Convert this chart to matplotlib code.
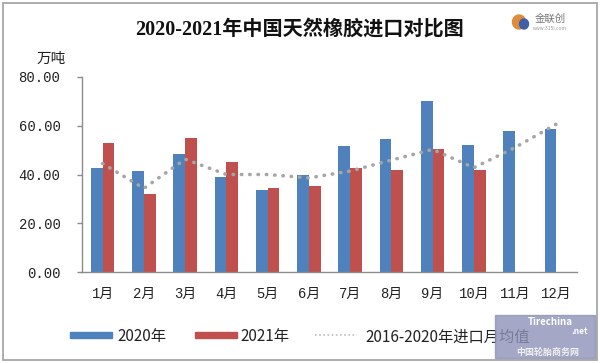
import matplotlib
matplotlib.use("Agg")
import matplotlib.pyplot as plt
from matplotlib.patches import Rectangle, Ellipse
from matplotlib.lines import Line2D
import numpy as np

plt.rcParams['font.family'] = ['Noto Sans CJK SC', 'DejaVu Sans']

months = ['1月', '2月', '3月', '4月', '5月', '6月', '7月', '8月', '9月', '10月', '11月', '12月']
imports_2020 = [42.5, 41.4, 48.5, 38.9, 33.7, 39.8, 51.5, 54.6, 70.0, 52.0, 57.7, 58.8]
imports_2021 = [53.0, 31.8, 55.0, 45.0, 34.4, 35.2, 42.5, 41.9, 50.5, 41.8]
avg_2016_2020 = [44.5, 34.3, 46.3, 40.0, 40.0, 38.6, 41.4, 45.9, 50.3, 42.8, 51.1, 60.7]
yticks = [0, 20, 40, 60, 80]
ytick_labels = ['0.00', '20.00', '40.00', '60.00', '80.00']
legend_labels = ['2020年', '2021年', '2016-2020年进口月均值']

blue = '#4F81BD'
red = '#C0504D'
gray_line = '#A6A6A6'
axis_gray = '#8C8C8C'

W, H = 600, 363
fig = plt.figure(figsize=(6, 3.63), dpi=100)
ax = fig.add_axes([82 / W, 1 - 272 / H, (577 - 82) / W, (272 - 77) / H])

x = np.arange(len(months))
bw = 0.285
ax.bar(x[:len(imports_2020)] - bw / 2, imports_2020, bw, color=blue, zorder=2, label=legend_labels[0])
ax.bar(x[:len(imports_2021)] + bw / 2, imports_2021, bw, color=red, zorder=2, label=legend_labels[1])
ax.plot(x[:len(avg_2016_2020)], avg_2016_2020, color=gray_line, lw=2.6,
        linestyle=(0, (0.1, 2.2)), dash_capstyle='round', zorder=3, label=legend_labels[2])

ax.set_xlim(-0.5, len(months) - 0.5)
ax.set_ylim(0, 80)
ax.set_yticks(yticks)
ax.set_yticklabels(ytick_labels, family=['Liberation Mono', 'Noto Sans CJK SC'], fontsize=10, color='#222222')
ax.set_xticks(x)
ax.set_xticklabels(months, family=['Liberation Mono', 'Noto Sans CJK SC'], fontsize=10, color='#222222')
ax.tick_params(axis='x', length=0, pad=11)
ax.tick_params(axis='y', length=3.5, width=1, color=axis_gray, pad=12)
for s in ['top', 'right']:
    ax.spines[s].set_visible(False)
for s in ['left', 'bottom']:
    ax.spines[s].set_color(axis_gray)
    ax.spines[s].set_linewidth(1)

# title and unit
fig.text(300 / W, 1 - 30 / H, '2020-2021年中国天然橡胶进口对比图',
         family=['Liberation Serif', 'Noto Sans CJK SC'], fontsize=14.5, fontweight='bold',
         ha='center', va='center', color='#111111')
fig.text(51 / W, 1 - 59 / H, '万吨', fontsize=10.5, ha='center', va='center', color='#222222')

# legend (manually placed)
ly = 1 - 335 / H
fig.patches.append(Rectangle((70 / W, 1 - 338 / H), 42 / W, 6 / H, transform=fig.transFigure, color=blue))
fig.text(117 / W, 1 - 337 / H, legend_labels[0], fontsize=11, ha='left', va='center', color='#222222')
fig.patches.append(Rectangle((195 / W, 1 - 338 / H), 42 / W, 6 / H, transform=fig.transFigure, color=red))
fig.text(240 / W, 1 - 337 / H, legend_labels[1], fontsize=11, ha='left', va='center', color='#222222')
fig.lines.append(Line2D([315 / W, 357 / W], [ly, ly], transform=fig.transFigure, color='#BFBFBF',
                        lw=1.2, linestyle=(0, (1, 1.5))))
fig.text(365 / W, 1 - 337 / H, legend_labels[2], fontsize=11, ha='left', va='center', color='#222222')

# outer border
fig.patches.append(Rectangle((3 / W, 1 - 360 / H), 594 / W, 357 / H, transform=fig.transFigure,
                             fill=False, edgecolor='#A0A0A0', lw=1.2))

# logo top right
fig.patches.append(Ellipse((519 / W, 1 - 22 / H), 13 / W, 14 / H, transform=fig.transFigure, color='#E08A3C'))
fig.patches.append(Ellipse((524 / W, 1 - 24 / H), 9 / W, 10 / H, transform=fig.transFigure, color='#3F5FA8'))
fig.text(550 / W, 1 - 19 / H, '金联创', fontsize=7.5, ha='center', va='center', color='#777777')
fig.text(550 / W, 1 - 28 / H, 'www.315i.com', fontsize=3.5, ha='center', va='center', color='#999999')

# watermark bottom right
fig.patches.append(Rectangle((495 / W, 1 - 358 / H), 100 / W, 43 / H, transform=fig.transFigure,
                             color='#8E92B8', alpha=0.8, zorder=5))
fig.text(550 / W, 1 - 322 / H, 'Tirechina', fontsize=7, fontweight='bold', style='italic',
         ha='center', va='center', color='white', zorder=6)
fig.text(580 / W, 1 - 331 / H, '.net', fontsize=6, fontweight='bold', style='italic',
         ha='center', va='center', color='white', zorder=6)
fig.text(548 / W, 1 - 352 / H, '中国轮胎商务网', fontsize=6.5, fontweight='bold',
         ha='center', va='center', color='#F0F0F0', zorder=6)

fig.savefig('out.png', dpi=100)
